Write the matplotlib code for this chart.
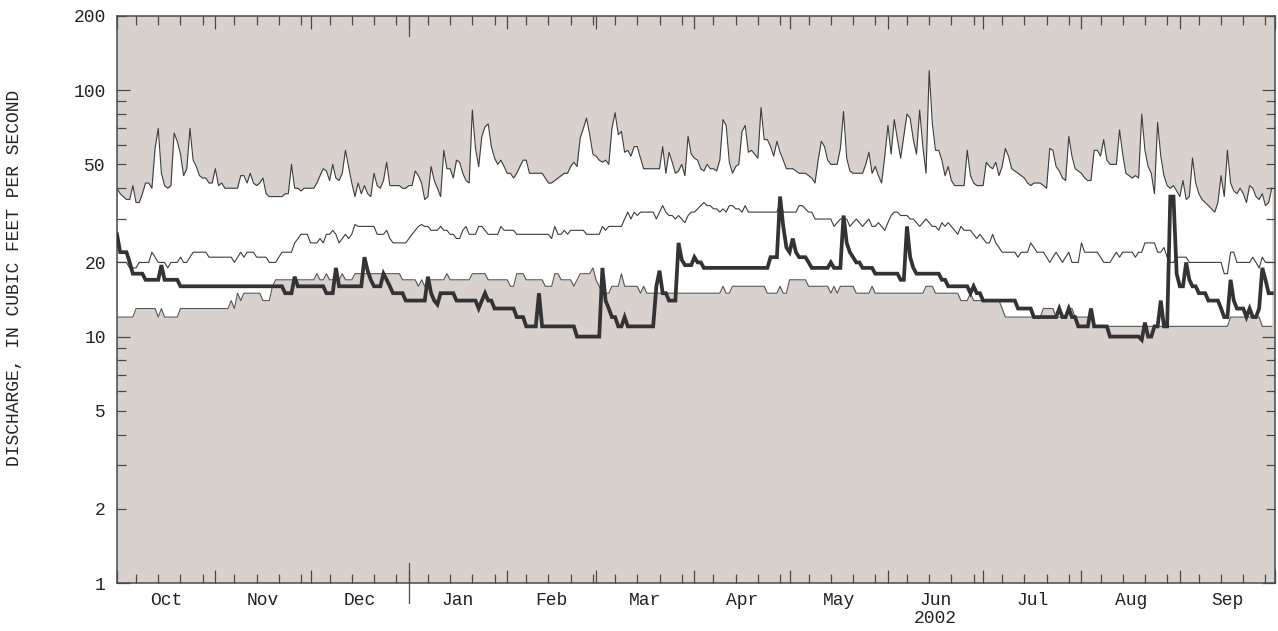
import numpy as np
import matplotlib
matplotlib.use("Agg")
import matplotlib.pyplot as plt
from matplotlib.ticker import FixedLocator, FuncFormatter

# Daily discharge statistics, water year Oct 1 2001 - Sep 30 2002 (cfs)
daily_max = [
    40, 38, 37, 36, 36, 41, 35, 35, 38, 42,
    42, 40, 58, 70, 46, 41, 40, 41, 67, 62,
    55, 45, 48, 70, 52, 49, 45, 44, 44, 42,
    42, 48, 41, 42, 40, 40, 40, 40, 40, 45,
    45, 42, 46, 42, 41, 42, 44, 38, 37, 37,
    37, 37, 37, 38, 38, 50, 40, 40, 39, 40,
    40, 40, 40, 42, 45, 48, 47, 43, 50, 44,
    43, 46, 57, 49, 42, 37, 42, 38, 41, 38,
    37, 46, 41, 40, 43, 51, 41, 41, 41, 41,
    40, 40, 41, 41, 47, 45, 42, 36, 37, 49,
    43, 40, 37, 57, 48, 48, 44, 52, 51, 46,
    43, 42, 83, 58, 49, 65, 71, 73, 59, 53,
    50, 52, 49, 46, 46, 44, 46, 49, 52, 52,
    46, 46, 46, 46, 46, 44, 42, 42, 43, 44,
    45, 46, 46, 49, 51, 49, 64, 70, 77, 66,
    55, 54, 52, 51, 52, 50, 70, 81, 66, 68,
    56, 57, 54, 59, 59, 53, 48, 48, 48, 48,
    48, 48, 59, 46, 56, 51, 46, 47, 50, 45,
    65, 55, 53, 52, 48, 47, 50, 48, 48, 47,
    52, 76, 72, 51, 46, 49, 50, 68, 72, 56,
    57, 55, 53, 85, 63, 63, 59, 54, 62, 56,
    52, 48, 48, 48, 47, 46, 46, 46, 45, 44,
    42, 52, 62, 59, 52, 50, 50, 50, 58, 82,
    53, 47, 46, 46, 46, 46, 50, 56, 46, 49,
    45, 42, 54, 72, 55, 76, 63, 53, 65, 80,
    77, 63, 55, 83, 59, 46, 120, 73, 57, 57,
    52, 45, 49, 43, 41, 41, 41, 41, 57, 45,
    42, 41, 41, 41, 51, 49, 48, 51, 45, 49,
    58, 54, 48, 47, 46, 45, 44, 42, 41, 42,
    42, 42, 41, 40, 58, 57, 49, 47, 44, 43,
    65, 54, 48, 47, 46, 44, 43, 43, 57, 57,
    54, 63, 52, 50, 50, 50, 69, 55, 46, 45,
    44, 45, 44, 80, 57, 49, 46, 38, 74, 54,
    45, 41, 40, 41, 39, 37, 43, 36, 37, 53,
    42, 38, 36, 35, 34, 33, 32, 35, 45, 37,
    57, 42, 39, 38, 40, 38, 35, 41, 40, 37,
    36, 38, 34, 35, 40,
]

daily_median = [
    20, 20, 20, 20, 19, 19, 19, 20, 20, 20,
    20, 22, 21, 20, 20, 20, 19, 20, 20, 20,
    21, 20, 20, 21, 22, 22, 22, 22, 22, 21,
    21, 21, 21, 21, 21, 21, 21, 20, 21, 22,
    21, 22, 22, 22, 21, 21, 21, 21, 20, 20,
    20, 21, 22, 22, 22, 22, 24, 25, 26, 26,
    26, 24, 24, 24, 25, 24, 26, 26, 27, 26,
    24, 25, 26, 25, 26, 28.5, 28, 28, 28, 28,
    28, 28, 26, 26, 26, 27, 25, 24, 24, 24,
    24, 24, 25, 26, 27, 28, 28.5, 28, 28, 27,
    27, 27, 28, 27, 27, 26, 26, 25, 25, 27,
    28, 26, 26, 26, 28, 28, 27, 26, 26, 26,
    26, 28, 27, 27, 27, 27, 26, 26, 26, 26,
    26, 26, 26, 26, 26, 26, 26, 25, 28, 26,
    26, 27, 26, 27, 27, 27, 27, 27, 26, 26,
    26, 26, 26, 28, 27, 28, 28, 28, 28, 28,
    30, 32, 30, 32, 31, 32, 32, 32, 32, 32,
    30, 32, 34, 32, 31, 31, 30, 31, 30, 29,
    31, 32, 32, 33, 34, 35, 34, 34, 33, 33,
    32, 33, 32, 34, 34, 33, 33, 32, 34, 32,
    32, 32, 32, 32, 32, 32, 32, 32, 32, 35,
    32, 32, 32, 32, 32, 34, 34, 33, 32, 32,
    30, 30, 30, 30, 30, 30, 28, 29, 30, 30,
    30, 28, 29, 30, 29, 28, 29, 30, 28, 28,
    29, 28, 27, 29, 31, 32, 32, 31, 31, 31,
    30, 30, 29, 28, 29, 30, 29, 28, 28, 27,
    29, 28, 29, 28, 27, 26, 28, 27, 27, 27,
    26, 25, 26, 25, 24, 24, 26, 24, 23, 22,
    22, 22, 22, 22, 21, 22, 22, 22, 24, 23,
    22, 22, 22, 21, 20, 21, 22, 21, 20, 21,
    22, 20, 20, 20, 24, 22, 22, 22, 22, 22,
    21, 20, 20, 20, 21, 22, 21, 22, 22, 22,
    22, 21, 22, 22, 24, 24, 24, 24, 22, 22,
    23, 21, 20, 20, 21, 21, 21, 21, 20, 20,
    20, 20, 20, 20, 20, 20, 20, 20, 20, 18,
    18, 22, 22, 20, 20, 20, 20, 20, 21, 20,
    19, 21, 20, 20, 20,
]

daily_min = [
    12, 12, 12, 12, 12, 12, 13, 13, 13, 13,
    13, 13, 13, 12, 13, 12, 12, 12, 12, 12,
    13, 13, 13, 13, 13, 13, 13, 13, 13, 13,
    13, 13, 13, 13, 13, 13, 14, 13, 15, 14,
    15, 15, 15, 15, 15, 15, 14, 14, 14, 16,
    17, 17, 17, 17, 17, 17, 17, 17, 17, 17,
    17, 17, 17, 18, 17, 17, 18, 17, 17, 18,
    17, 18, 17, 17, 17, 18, 18, 18, 18, 18,
    18, 18, 18, 18, 18, 18, 18, 18, 18, 18,
    17, 17, 17, 17, 17, 16, 17, 16, 17, 17,
    17, 17, 17, 17, 18, 17, 17, 17, 17, 17,
    17, 17, 18, 18, 18, 18, 18, 17, 17, 17,
    17, 17, 17, 17, 16, 16, 18, 18, 18, 17,
    17, 17, 17, 17, 17, 16, 16, 16, 18, 18,
    17, 17, 17, 17, 16, 17, 18, 18, 18, 18,
    19, 17, 16, 15, 15, 15, 16, 16, 16, 18,
    16, 16, 16, 16, 16, 15, 16, 15, 15, 15,
    15, 15, 15, 15, 15, 15, 15, 15, 15, 15,
    15, 15, 15, 15, 15, 15, 15, 15, 15, 15,
    15, 16, 15, 15, 16, 16, 16, 16, 16, 16,
    16, 16, 16, 16, 16, 15, 15, 15, 15, 16,
    15, 15, 17, 17, 17, 17, 17, 17, 16, 16,
    16, 16, 16, 16, 16, 15, 16, 15, 16, 16,
    16, 16, 16, 15, 15, 15, 15, 15, 16, 15,
    15, 15, 15, 15, 15, 15, 15, 15, 15, 15,
    15, 15, 15, 15, 15, 16, 16, 16, 15, 15,
    15, 15, 15, 15, 15, 15, 14, 14, 14, 15,
    14, 14, 14, 14, 14, 14, 14, 14, 14, 13,
    12, 12, 12, 12, 12, 12, 12, 12, 12, 12,
    12, 12, 13, 13, 13, 13, 12, 12, 12, 12,
    13, 13, 12, 12, 12, 12, 12, 12, 11, 11,
    11, 11, 11, 11, 11, 11, 11, 11, 11, 11,
    11, 11, 11, 11, 11, 11, 11, 11, 11, 11,
    11, 11, 11, 11, 11, 11, 11, 11, 11, 11,
    11, 11, 11, 11, 11, 11, 11, 11, 11, 11,
    11, 12, 12, 12, 12, 12, 12, 12, 12, 12,
    12, 11, 11, 11, 11,
]

discharge_2002 = [
    26, 22, 22, 22, 20, 18, 18, 18, 18, 17,
    17, 17, 17, 17, 19.5, 17, 17, 17, 17, 17,
    16, 16, 16, 16, 16, 16, 16, 16, 16, 16,
    16, 16, 16, 16, 16, 16, 16, 16, 16, 16,
    16, 16, 16, 16, 16, 16, 16, 16, 16, 16,
    16, 16, 16, 15, 15, 15, 17.5, 16, 16, 16,
    16, 16, 16, 16, 16, 16, 15, 15, 15, 19,
    16, 16, 16, 16, 16, 16, 16, 16, 21, 18.5,
    17, 16, 16, 16, 18, 17, 16, 15, 15, 15,
    15, 14, 14, 14, 14, 14, 14, 14, 17.5, 15,
    14, 13.5, 15, 15, 15, 15, 15, 14, 14, 14,
    14, 14, 14, 14, 13, 14, 15, 14, 14, 13,
    13, 13, 13, 13, 13, 13, 12, 12, 12, 11,
    11, 11, 11, 15, 11, 11, 11, 11, 11, 11,
    11, 11, 11, 11, 11, 10, 10, 10, 10, 10,
    10, 10, 10, 19, 14, 13, 12, 12, 11, 11,
    12, 11, 11, 11, 11, 11, 11, 11, 11, 11,
    16, 18.5, 15, 15, 14, 14, 14, 24, 20.5, 19.5,
    19.5, 19.5, 21, 20, 20, 19, 19, 19, 19, 19,
    19, 19, 19, 19, 19, 19, 19, 19, 19, 19,
    19, 19, 19, 19, 19, 19, 21, 21, 21, 37,
    28, 23, 22, 25, 22, 21, 21, 21, 20, 19,
    19, 19, 19, 19, 19, 20, 19, 19, 19, 31,
    24, 22, 21, 20, 20, 19, 19, 19, 19, 18,
    18, 18, 18, 18, 18, 18, 18, 17, 17, 28,
    21, 19, 18, 18, 18, 18, 18, 18, 18, 18,
    17, 17, 16, 16, 16, 16, 16, 16, 16, 15,
    16, 15, 15, 14, 14, 14, 14, 14, 14, 14,
    14, 14, 14, 14, 13, 13, 13, 13, 13, 12,
    12, 12, 12, 12, 12, 12, 12, 13, 12, 12,
    13, 12, 12, 11, 11, 11, 11, 13, 11, 11,
    11, 11, 11, 10, 10, 10, 10, 10, 10, 10,
    10, 10, 10, 9.7, 11.4, 10, 10, 11, 11, 14,
    11, 11, 37, 37, 18, 16, 16, 20, 17, 16,
    16, 15, 15, 15, 14, 14, 14, 14, 13, 12,
    12, 17, 14, 13, 13, 13, 12, 13, 12, 12,
    13, 19, 17, 15, 15,
]

months = ['Oct', 'Nov', 'Dec', 'Jan', 'Feb', 'Mar',
          'Apr', 'May', 'Jun', 'Jul', 'Aug', 'Sep']
month_days = [31, 30, 31, 31, 28, 31, 30, 31, 30, 31, 31, 30]
y_labels = [1, 2, 5, 10, 20, 50, 100, 200]

for s in (daily_max, daily_median, daily_min, discharge_2002):
    assert len(s) == 365, len(s)

plt.rcParams['font.family'] = ['Liberation Mono', 'DejaVu Sans Mono']

W, H = 1278, 631
fig = plt.figure(figsize=(W / 100, H / 100), dpi=100)
ax = fig.add_axes([117 / W, 48 / H, 1158 / W, 567 / H])

gray = '#d8d1ce'
line_col = '#3c3c3c'
days = np.arange(365)

ax.set_facecolor(gray)
ax.fill_between(days, daily_min, daily_max, color='white', lw=0, zorder=1)
ax.plot(days, daily_max, color=line_col, lw=0.8, zorder=2)
ax.plot(days, daily_median, color=line_col, lw=0.8, zorder=2)
ax.plot(days, daily_min, color='#555555', lw=0.8, zorder=2)
ax.plot(days, discharge_2002, color='#333336', lw=2.7, zorder=3,
        solid_joinstyle='miter')

ax.set_yscale('log')
ax.set_ylim(1, 200)
ax.set_xlim(0, 365)

# y axis: long ticks at decades, short elsewhere
ax.yaxis.set_major_locator(FixedLocator([1, 10, 100]))
minor_y = [v * d for d in (1, 10, 100) for v in range(2, 10) if v * d <= 200]
ax.yaxis.set_minor_locator(FixedLocator(minor_y))
fmt = FuncFormatter(lambda v, p: f"{int(round(v))}" if int(round(v)) in y_labels else "")
ax.yaxis.set_major_formatter(fmt)
ax.yaxis.set_minor_formatter(fmt)

# x axis: month boundaries long, weekly ticks short
starts = np.concatenate([[0], np.cumsum(month_days)])
weekly = [s + k for s in starts[:-1] for k in (6, 13, 20, 27)]
ax.xaxis.set_major_locator(FixedLocator(starts))
ax.xaxis.set_minor_locator(FixedLocator(weekly))
ax.xaxis.set_major_formatter(FuncFormatter(lambda v, p: ""))
ax.xaxis.set_minor_formatter(FuncFormatter(lambda v, p: ""))

edge = '#4a4a4a'
ax.tick_params(which='both', direction='in', top=True, right=True,
               labelright=False, labeltop=False, color=edge, width=0.9)
ax.tick_params(which='major', length=9.5)
ax.tick_params(which='minor', length=6.5)
ax.tick_params(axis='y', which='both', labelsize=13, pad=8, labelcolor='#222222')
for sp in ax.spines.values():
    sp.set_color(edge)
    sp.set_linewidth(1.1)

# month names centred in each month
xt = ax.get_xaxis_transform()
for name, s, n in zip(months, starts[:-1], month_days):
    ax.text(s + n / 2, -0.030, name, transform=xt, ha='center', va='center',
            fontsize=13, color='#222222')
ax.text(starts[8] + month_days[8] / 2, -0.062, '2002', transform=xt,
        ha='center', va='center', fontsize=13, color='#222222')

# calendar-year boundary mark
jan1 = starts[3]
ax.plot([jan1, jan1], [-0.036, 0.036], transform=xt, color=edge, lw=0.9,
        clip_on=False, zorder=4)
ax.plot([jan1, jan1], [1 - 0.036, 1], transform=xt, color=edge, lw=0.9,
        clip_on=False, zorder=4)

fig.text(15 / W, 1 - 278 / H, 'DISCHARGE, IN CUBIC FEET PER SECOND',
         rotation=90, ha='center', va='center', fontsize=13, color='#222222')

fig.savefig('out.png', dpi=100, facecolor='white')
